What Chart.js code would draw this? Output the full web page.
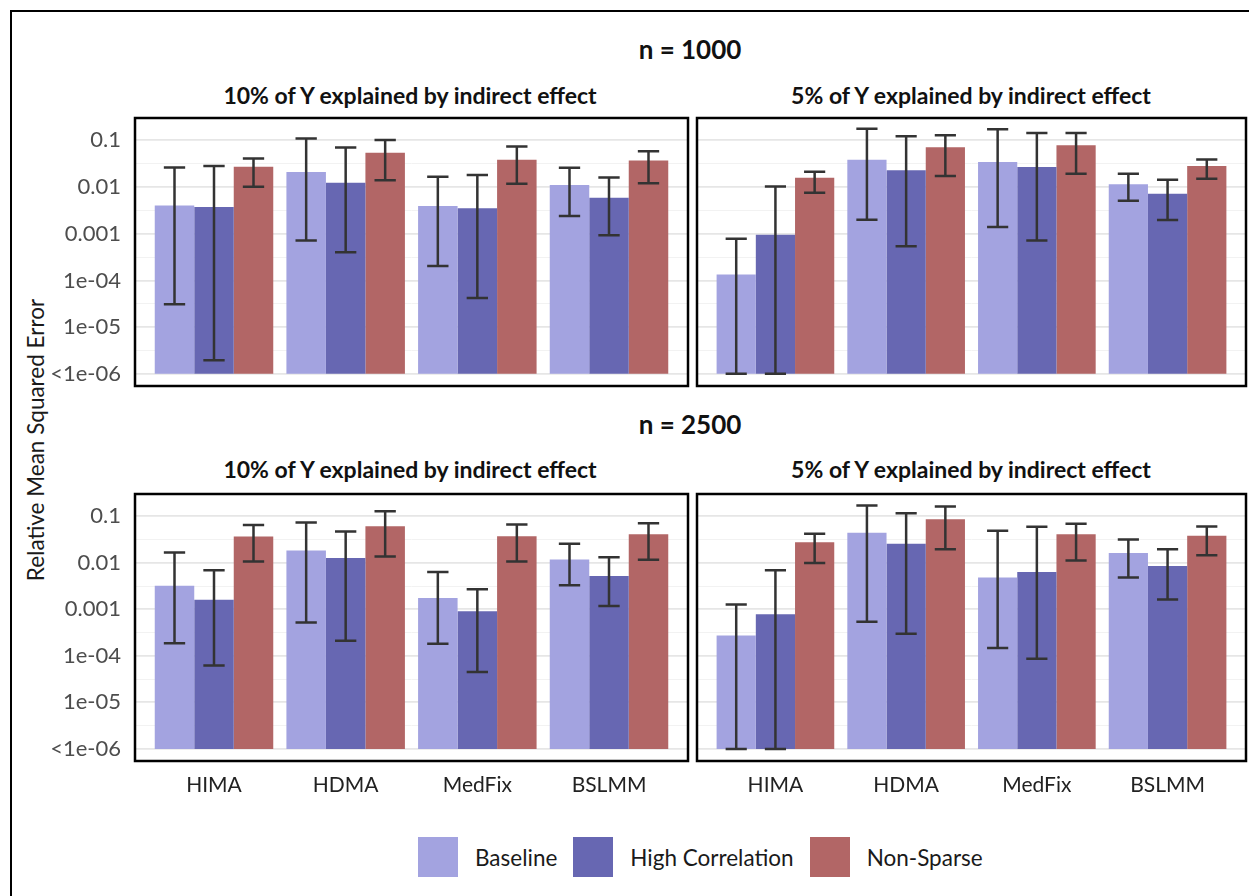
<!DOCTYPE html>
<html>
<head>
<meta charset="utf-8">
<script src="https://cdn.jsdelivr.net/npm/chart.js@4.4.1/dist/chart.umd.min.js"></script>
<style>
  body { margin: 0; background: #fff; font-family: Lato, "Open Sans", sans-serif; }
  #page { position: relative; width: 1249px; height: 896px; overflow: hidden; }
  #frame { position: absolute; left: 10px; top: 10px; width: 1300px; height: 1000px; border: 2px solid #000; }
  canvas { position: absolute; }
  .title { position: absolute; transform: translate(-50%, -50%); white-space: nowrap; font-weight: bold; color: #111; }
  .big { font-size: 26px; }
  .facet { font-size: 23px; }
  #ytitle { position: absolute; left: 35px; top: 440px; transform: translate(-50%, -50%) rotate(-90deg);
            white-space: nowrap; font-size: 22.5px; color: #1a1a1a; }
  #legend { position: absolute; left: 418px; top: 837px; display: flex; align-items: center; }
  .key { width: 40px; height: 40px; margin-right: 17px; }
  .lab { font-size: 22.5px; color: #1a1a1a; margin-right: 16px; }
</style>
</head>
<body>
<div id="page">
  <div id="frame"></div>
  <div class="title big" style="left:690px;top:49px">n = 1000</div>
  <div class="title big" style="left:690px;top:424px">n = 2500</div>
  <div class="title facet" style="left:410px;top:95px">10% of Y explained by indirect effect</div>
  <div class="title facet" style="left:971px;top:95px">5% of Y explained by indirect effect</div>
  <div class="title facet" style="left:410px;top:469px">10% of Y explained by indirect effect</div>
  <div class="title facet" style="left:971px;top:469px">5% of Y explained by indirect effect</div>
  <div id="ytitle">Relative Mean Squared Error</div>
  <canvas id="c1" width="673" height="279" style="left:18px;top:110px"></canvas>
  <canvas id="c2" width="554" height="279" style="left:695px;top:110px"></canvas>
  <canvas id="c3" width="673" height="315" style="left:18px;top:486px"></canvas>
  <canvas id="c4" width="554" height="315" style="left:695px;top:486px"></canvas>
  <div id="legend"></div>
</div>
<script>
const methods = ['HIMA', 'HDMA', 'MedFix', 'BSLMM'];
const scenarios = ['Baseline', 'High Correlation', 'Non-Sparse'];
const colors = ['#A3A3E0', '#6767B2', '#B26666'];
const yTickValues = [1e-6, 1e-5, 1e-4, 1e-3, 1e-2, 1e-1];
const yTickLabels = ['<1e-06', '1e-05', '1e-04', '0.001', '0.01', '0.1'];
const FLOOR = 1e-6;

// rows = scenarios (Baseline, High Correlation, Non-Sparse), columns = methods
// n = 1000, 10% of Y explained by indirect effect
const n1000_10_mean  = [[0.0040, 0.021, 0.0039, 0.0111], [0.00375, 0.0123, 0.0035, 0.0059], [0.027, 0.054, 0.0385, 0.037]];
const n1000_10_lower = [[3.1e-5, 7.2e-4, 2.04e-4, 0.0024], [1.95e-6, 4.0e-4, 4.2e-5, 9.3e-4], [0.0101, 0.014, 0.0117, 0.0121]];
const n1000_10_upper = [[0.026, 0.109, 0.0166, 0.0259], [0.028, 0.070, 0.018, 0.016], [0.041, 0.102, 0.074, 0.058]];
// n = 1000, 5%
const n1000_5_mean  = [[1.34e-4, 0.0385, 0.0343, 0.0115], [9.5e-4, 0.0227, 0.0268, 0.0072], [0.0158, 0.071, 0.078, 0.028]];
const n1000_5_lower = [[1e-6, 0.002, 0.0014, 0.00505], [1e-6, 5.4e-4, 7.2e-4, 0.00197], [0.0075, 0.0171, 0.0192, 0.015]];
const n1000_5_upper = [[7.8e-4, 0.176, 0.173, 0.0192], [0.0102, 0.122, 0.144, 0.0143], [0.0212, 0.128, 0.144, 0.039]];
// n = 2500, 10%
const n2500_10_mean  = [[0.0032, 0.0184, 0.00174, 0.0118], [0.0016, 0.0126, 0.00091, 0.0052], [0.0367, 0.061, 0.0373, 0.041]];
const n2500_10_lower = [[1.86e-4, 5.2e-4, 1.82e-4, 0.0033], [6.2e-5, 2.1e-4, 4.5e-5, 0.00117], [0.0106, 0.0137, 0.0106, 0.0116]];
const n2500_10_upper = [[0.0167, 0.073, 0.0063, 0.0257], [0.0069, 0.047, 0.0027, 0.0132], [0.065, 0.128, 0.066, 0.071]];
// n = 2500, 5%
const n2500_5_mean  = [[2.75e-4, 0.044, 0.0048, 0.0162], [7.8e-4, 0.0257, 0.0063, 0.0085], [0.0274, 0.086, 0.041, 0.038]];
const n2500_5_lower = [[1e-6, 5.4e-4, 1.47e-4, 0.0048], [1e-6, 3.0e-4, 8.7e-5, 0.00162], [0.0099, 0.0196, 0.0112, 0.0145]];
const n2500_5_upper = [[0.00127, 0.169, 0.049, 0.0316], [0.0069, 0.116, 0.059, 0.0196], [0.042, 0.161, 0.069, 0.060]];

// minor grid lines halfway between decades (log space)
const yMinor = yTickValues.slice(0, -1).map(v => v * Math.sqrt(10));
const isMajor = v => yTickValues.some(t => Math.abs(Math.log10(t) - Math.log10(v)) < 1e-6);

const errorBars = {
  id: 'errorBars',
  afterDatasetsDraw(chart) {
    const ctx = chart.ctx, y = chart.scales.y;
    ctx.save();
    ctx.strokeStyle = '#333';
    ctx.lineWidth = 2.5;
    chart.data.datasets.forEach((ds, i) => {
      chart.getDatasetMeta(i).data.forEach((bar, j) => {
        const top = y.getPixelForValue(ds.upper[j]);
        const bot = y.getPixelForValue(Math.max(ds.lower[j], FLOOR));
        const half = bar.width * 0.27;
        ctx.beginPath();
        ctx.moveTo(bar.x, top); ctx.lineTo(bar.x, bot);
        ctx.moveTo(bar.x - half, top); ctx.lineTo(bar.x + half, top);
        ctx.moveTo(bar.x - half, bot); ctx.lineTo(bar.x + half, bot);
        ctx.stroke();
      });
    });
    ctx.restore();
  }
};

const panelBorder = {
  id: 'panelBorder',
  afterDraw(chart) {
    const { left, top, right, bottom } = chart.chartArea;
    const ctx = chart.ctx;
    ctx.save();
    ctx.strokeStyle = '#000';
    ctx.lineWidth = 2.5;
    ctx.strokeRect(left, top, right - left, bottom - top);
    ctx.restore();
  }
};

function makePanel(id, mean, lower, upper, showY, showX) {
  new Chart(document.getElementById(id), {
    type: 'bar',
    data: {
      datasets: scenarios.map((name, i) => ({
        label: name,
        data: mean[i].map((v, j) => ({ x: j + 1, y: [FLOOR, v] })),
        lower: lower[i],
        upper: upper[i],
        backgroundColor: colors[i],
        borderWidth: 0,
        categoryPercentage: 0.9,
        barPercentage: 1
      }))
    },
    options: {
      responsive: false,
      animation: false,
      layout: { padding: { top: 8, right: 3, bottom: showX ? 0 : 3, left: 2 } },
      plugins: { legend: { display: false }, tooltip: { enabled: false } },
      scales: {
        x: {
          type: 'linear',
          min: 0.4,
          max: 4.6,
          offset: false,
          afterBuildTicks: s => { s.ticks = methods.map((m, i) => ({ value: i + 1 })); },
          afterFit: s => {
            s.height = showX ? 40 : 0;
            s.paddingLeft = 0; s.paddingRight = 0;
          },
          grid: { display: false },
          border: { display: false },
          ticks: {
            display: showX,
            autoSkip: false,
            maxRotation: 0,
            padding: 4,
            color: '#222',
            font: { family: 'Lato', size: 21 },
            callback: v => methods[v - 1]
          }
        },
        y: {
          type: 'logarithmic',
          min: 5.5e-7,
          max: 0.3,
          afterBuildTicks: s => {
            s.ticks = yTickValues.concat(yMinor).sort((a, b) => a - b).map(v => ({ value: v }));
          },
          afterFit: s => {
            s.width = showY ? 115 : 0;
            s.paddingTop = 0; s.paddingBottom = 0;
          },
          border: { display: false },
          grid: {
            drawTicks: false,
            color: c => isMajor(c.tick.value) ? '#E6E6E6' : '#F2F2F2',
            lineWidth: c => isMajor(c.tick.value) ? 1.8 : 1
          },
          ticks: {
            display: showY,
            autoSkip: false,
            padding: 14,
            color: '#4D4D4D',
            font: { family: 'Lato', size: 22 },
            callback: v => {
              const k = yTickValues.findIndex(t => Math.abs(Math.log10(t) - Math.log10(v)) < 1e-6);
              return k >= 0 ? yTickLabels[k] : '';
            }
          }
        }
      }
    },
    plugins: [errorBars, panelBorder]
  });
}

makePanel('c1', n1000_10_mean, n1000_10_lower, n1000_10_upper, true, false);
makePanel('c2', n1000_5_mean, n1000_5_lower, n1000_5_upper, false, false);
makePanel('c3', n2500_10_mean, n2500_10_lower, n2500_10_upper, true, true);
makePanel('c4', n2500_5_mean, n2500_5_lower, n2500_5_upper, false, true);

const legend = document.getElementById('legend');
scenarios.forEach((name, i) => {
  const key = document.createElement('div');
  key.className = 'key';
  key.style.background = colors[i];
  const lab = document.createElement('div');
  lab.className = 'lab';
  lab.textContent = name;
  legend.appendChild(key);
  legend.appendChild(lab);
});
</script>
</body>
</html>
